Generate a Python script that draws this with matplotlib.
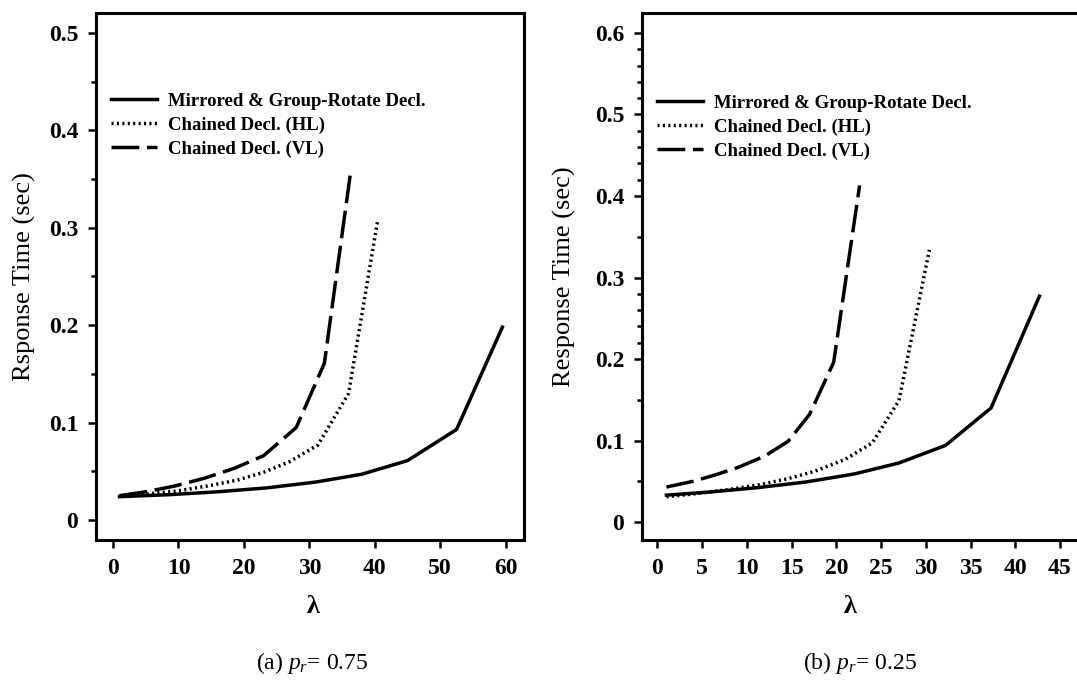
import matplotlib
matplotlib.use("Agg")
import matplotlib.pyplot as plt
from matplotlib.ticker import FixedLocator

# ---- data: response time vs. arrival rate lambda ----
labels = ["Mirrored & Group-Rotate Decl.", "Chained Decl. (HL)", "Chained Decl. (VL)"]

# (a) p_r = 0.75
a_mirror_x = [1, 8.5, 16, 23.5, 31, 38, 45, 52.5, 59.5]
a_mirror_y = [0.024, 0.026, 0.029, 0.033, 0.039, 0.047, 0.061, 0.093, 0.198]
a_hl_x = [1, 5.5, 10, 14.5, 19, 23, 27, 31.3, 36, 40.4]
a_hl_y = [0.025, 0.027, 0.030, 0.035, 0.041, 0.049, 0.060, 0.077, 0.130, 0.306]
a_vl_x = [1, 5, 9.5, 14, 18.5, 23, 28, 32.3, 36.3]
a_vl_y = [0.025, 0.029, 0.035, 0.043, 0.053, 0.066, 0.095, 0.161, 0.357]

# (b) p_r = 0.25
b_mirror_x = [1, 6, 11, 16.5, 22, 27, 32.2, 37.3, 42.7]
b_mirror_y = [0.033, 0.037, 0.042, 0.049, 0.059, 0.0725, 0.094, 0.140, 0.277]
b_hl_x = [1, 4.5, 8, 11.5, 14.5, 17.5, 21, 24, 27, 30.4]
b_hl_y = [0.031, 0.035, 0.040, 0.046, 0.053, 0.062, 0.077, 0.097, 0.149, 0.334]
b_vl_x = [1, 4, 6.5, 9, 12, 14.6, 17, 19.7, 22.6]
b_vl_y = [0.043, 0.050, 0.058, 0.067, 0.081, 0.099, 0.132, 0.196, 0.413]

a_xticks = [0, 10, 20, 30, 40, 50, 60]
a_yticks = [0, 0.1, 0.2, 0.3, 0.4, 0.5]
a_yminor = [0.05, 0.15, 0.25, 0.35, 0.45]
b_xticks = [0, 5, 10, 15, 20, 25, 30, 35, 40, 45]
b_yticks = [0, 0.1, 0.2, 0.3, 0.4, 0.5, 0.6]
b_yminor = [0.05, 0.15, 0.22, 0.24, 0.26, 0.28, 0.35,
            0.42, 0.44, 0.46, 0.48, 0.52, 0.54, 0.56, 0.58]

# ---- style ----
plt.rcParams["font.family"] = ["Liberation Serif", "DejaVu Serif"]
plt.rcParams["mathtext.fontset"] = "custom"
plt.rcParams["mathtext.it"] = "Liberation Serif:italic"
plt.rcParams["mathtext.rm"] = "Liberation Serif"
plt.rcParams["lines.scale_dashes"] = False

W, H = 1077, 681
fig = plt.figure(figsize=(W / 100, H / 100), dpi=100)

LW = 2.5
styles = [
    dict(color="black", lw=LW, linestyle="-", solid_joinstyle="miter"),
    dict(color="black", lw=LW, linestyle=(0, (1.5, 2.4))),
    dict(color="black", lw=LW, linestyle=(0, (20, 5.5))),
]


def px_box(x0, x1, y0, y1):
    return [x0 / W, 1 - y1 / H, (x1 - x0) / W, (y1 - y0) / H]


def panel(rect, series, xlim, ylim, xticks, yticks, yminor, ylabel, ylab_x, lam_x, leg_anchor):
    ax = fig.add_axes(rect)
    for (xs, ys), st, lab in zip(series, styles, labels):
        ax.plot(xs, ys, label=lab, **st)
    ax.set_xlim(*xlim)
    ax.set_ylim(*ylim)
    ax.set_xticks(xticks)
    ax.set_xticklabels([str(t) for t in xticks])
    ax.set_yticks(yticks)
    ax.set_yticklabels(["0" if t == 0 else f"{t:g}" for t in yticks])
    ax.yaxis.set_minor_locator(FixedLocator(yminor))
    for s in ax.spines.values():
        s.set_linewidth(2.2)
    ax.tick_params(axis="both", which="major", direction="out", length=5.8,
                   width=1.8, pad=7, labelsize=17)
    ax.tick_params(axis="y", which="minor", direction="out", length=3.3, width=1.8)
    for t in ax.get_xticklabels() + ax.get_yticklabels():
        t.set_fontweight("bold")
    ax.set_ylabel(ylabel, fontsize=19)
    ax.yaxis.set_label_coords(ylab_x, 0.5)
    ax.set_xlabel("λ", fontsize=19, fontweight="bold")
    ax.xaxis.set_label_coords(lam_x, -0.105)
    ax.legend(loc="upper left", bbox_to_anchor=leg_anchor, frameon=False,
              prop={"size": 13.5, "weight": "bold"}, handlelength=2.45,
              handletextpad=0.6, labelspacing=0.36, borderpad=0, borderaxespad=0)
    return ax


panel(px_box(96, 524, 13, 540),
      [(a_mirror_x, a_mirror_y), (a_hl_x, a_hl_y), (a_vl_x, a_vl_y)],
      (-2.6, 62.8), (-0.0205, 0.5205), a_xticks, a_yticks, a_yminor,
      "Rsponse Time (sec)", -0.14, 0.507, (0.035, 0.849))

panel(px_box(642, 1085, 13, 540),
      [(b_mirror_x, b_mirror_y), (b_hl_x, b_hl_y), (b_vl_x, b_vl_y)],
      (-1.73, 47.8), (-0.022, 0.6245), b_xticks, b_yticks, b_yminor,
      "Response Time (sec)", -0.148, 0.47, (0.034, 0.845))

fig.text(312 / W, 1 - 663 / H, "(a) $p_r$= 0.75", ha="center", va="center", fontsize=17)
fig.text(860 / W, 1 - 663 / H, "(b) $p_r$= 0.25", ha="center", va="center", fontsize=17)

fig.savefig("out.png", dpi=100)
